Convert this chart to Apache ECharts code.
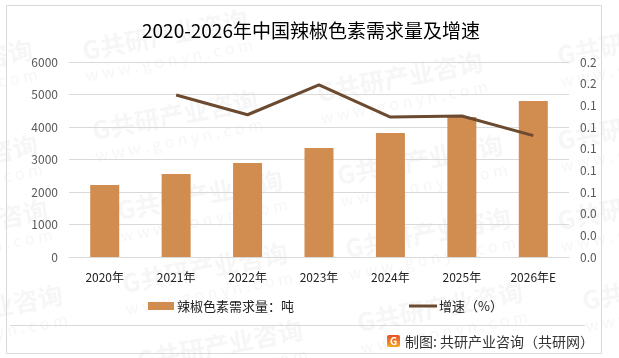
<!DOCTYPE html>
<html><head><meta charset="utf-8">
<style>html,body{margin:0;padding:0;background:#fff}#c{width:619px;height:358px}</style>
<script src="https://cdn.jsdelivr.net/npm/echarts@6/dist/echarts.min.js"></script>
</head><body><div id="c"></div>
<script>
const categories = ['2020年','2021年','2022年','2023年','2024年','2025年','2026年E'];
const demand = [2215,2554,2892,3354,3815,4308,4800];
const growth = [null,0.1495,0.1313,0.1588,0.1292,0.1302,0.112];
const FONT = '"Noto Sans CJK SC",sans-serif';
const marks = [[165,35],[175,115],[400,77],[640,40],[-50,65],[-45,160],[420,160],[640,125],[-35,225],[200,195],[205,268],[-20,310],[220,345],[428,233],[440,307],[640,205],[665,285]];
const wm = [];
marks.forEach(([x,y])=>{
  wm.push({type:'text',x:x,y:y,rotation:0.19,z:0,silent:true,style:{text:'G共研产业咨询',fill:'rgba(120,120,120,0.065)',font:'bold 25px '+FONT,align:'center',verticalAlign:'middle'}});
  wm.push({type:'text',x:x+4,y:y+25,rotation:0.19,z:0,silent:true,style:{text:'w w w . g o n y n . c o m',fill:'rgba(120,120,120,0.065)',font:'16px '+FONT,align:'center',verticalAlign:'middle'}});
});
const chart = echarts.init(document.getElementById('c'),null,{renderer:'canvas'});
chart.setOption({
  animation:false,
  backgroundColor:'#fff',
  title:{text:'2020-2026年中国辣椒色素需求量及增速',left:137,top:16,itemGap:0,textStyle:{fontFamily:FONT,fontSize:19,fontWeight:'normal',color:'#000'}},
  grid:{left:69,right:50,top:62,bottom:101},
  legend:{show:false},
  xAxis:{type:'category',data:categories,axisTick:{show:false},axisLine:{lineStyle:{color:'#d9d9d9',width:1}},
    axisLabel:{color:'#222',fontFamily:FONT,fontSize:12,margin:14}},
  yAxis:[
    {type:'value',min:0,max:6000,interval:1000,axisLine:{show:false},axisTick:{show:false},
     splitLine:{lineStyle:{color:'#d9d9d9',width:1}},axisLabel:{color:'#595959',fontFamily:FONT,fontSize:12,margin:11,formatter:v=>String(v)}},
    {type:'value',min:0,max:0.18,interval:0.02,axisLine:{show:false},axisTick:{show:false},splitLine:{show:false},
     axisLabel:{color:'#595959',fontFamily:FONT,fontSize:12,margin:11,formatter:v=>v.toFixed(1)}}
  ],
  series:[
    {name:'辣椒色素需求量：吨',type:'bar',data:demand,barWidth:29,itemStyle:{color:'#D18C4F'},z:2},
    {name:'增速（%）',type:'line',yAxisIndex:1,data:growth,symbol:'none',connectNulls:false,lineStyle:{color:'#6B4A2F',width:3},z:3}
  ],
  graphic:wm.concat([
    {type:'rect',shape:{x:6.5,y:5.5,width:595,height:348},style:{fill:'none',stroke:'#d9d9d9',lineWidth:1},silent:true},
    {type:'line',shape:{x1:10,y1:325.5,x2:585,y2:325.5},style:{stroke:'#d9d9d9',lineWidth:1},silent:true},
    {type:'rect',shape:{x:148,y:302,width:26,height:8},style:{fill:'#D18C4F'}},
    {type:'text',x:177,y:306,style:{text:'辣椒色素需求量：吨',fill:'#222',font:'13px '+FONT,verticalAlign:'middle'}},
    {type:'line',shape:{x1:409,y1:306,x2:437,y2:306},style:{stroke:'#6B4A2F',lineWidth:3}},
    {type:'text',x:439,y:306,style:{text:'增速（%）',fill:'#222',font:'13px '+FONT,verticalAlign:'middle'}},
    {type:'rect',shape:{x:387,y:335,width:13,height:12,r:2},style:{fill:new echarts.graphic.LinearGradient(0,0,0,1,[{offset:0,color:'#E8502A'},{offset:1,color:'#F5A623'}])}},
    {type:'text',x:393.5,y:341,style:{text:'G',fill:'#fff',font:'bold 10px '+FONT,align:'center',verticalAlign:'middle'}},
    {type:'text',x:405,y:342,style:{text:'制图: 共研产业咨询（共研网）',fill:'#333',font:'14px '+FONT,verticalAlign:'middle'}}
  ])
});
</script></body></html>
